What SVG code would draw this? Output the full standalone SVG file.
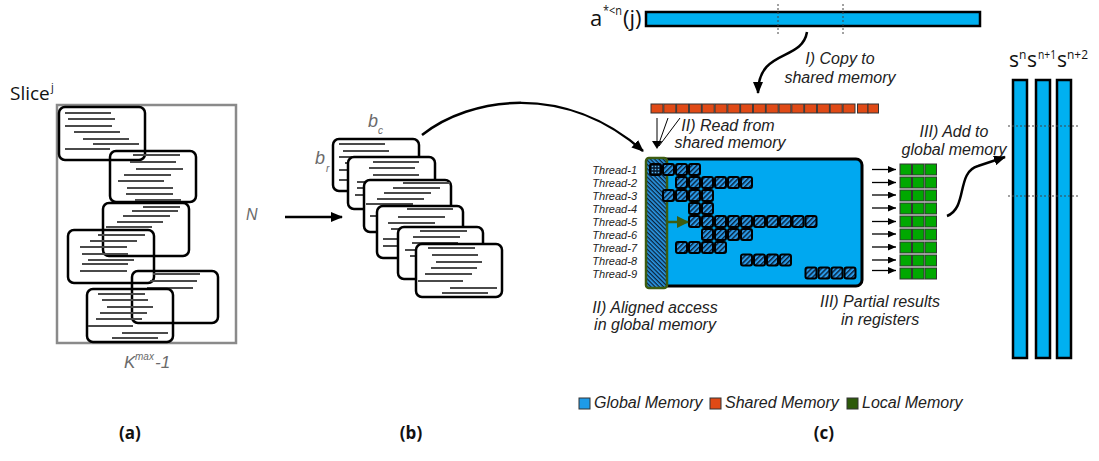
<svg xmlns="http://www.w3.org/2000/svg" width="1099" height="461" viewBox="0 0 1099 461">
<style>
.lbl{font-family:"Liberation Sans",Arial,sans-serif;font-style:italic;fill:#222;font-size:16px}
.thr{font-family:"Liberation Sans",Arial,sans-serif;font-style:italic;fill:#222;font-size:11px;text-anchor:end}
.gray{font-family:"Liberation Sans",Arial,sans-serif;font-style:italic;fill:#6a6a6a}
.sans{font-family:"Open Sans","DejaVu Sans",sans-serif;fill:#111}
.cap{font-family:"Open Sans","DejaVu Sans",sans-serif;font-weight:bold;font-size:17px;fill:#111;text-anchor:middle}
.blk{fill:#fff;stroke:#000;stroke-width:2.5}
.rows{stroke:#4a4a4a;stroke-width:2.2;fill:none}
.gm{fill:#00b0f0;stroke:#000;stroke-width:2.5}
.sm{fill:#e04a16;stroke:#333;stroke-width:1}
.reg{fill:#00a800;stroke:#333;stroke-width:1}
.ts{fill:url(#hatchF);stroke:#000;stroke-width:2}
.con{fill:none;stroke:#000;stroke-width:2.5}
.dot{stroke:#444;stroke-width:1;stroke-dasharray:2 2;fill:none}
</style>
<defs>
<marker id="ah" viewBox="0 0 12 10" refX="11" refY="5" markerWidth="12" markerHeight="10" markerUnits="userSpaceOnUse" orient="auto"><path d="M0,0 L12,5 L0,10 z" fill="#000"/></marker>
<marker id="ahs" viewBox="0 0 8 7" refX="8" refY="3.5" markerWidth="8" markerHeight="7" markerUnits="userSpaceOnUse" orient="auto"><path d="M0,0 L8,3.5 L0,7 z" fill="#000"/></marker>
<marker id="ahg" viewBox="0 0 12 12" refX="11" refY="6" markerWidth="12" markerHeight="12" markerUnits="userSpaceOnUse" orient="auto"><path d="M0,0 L12,6 L0,12 z" fill="#3d5c10"/></marker>
<pattern id="hatchF" width="3.5" height="3.5" patternUnits="userSpaceOnUse" patternTransform="rotate(-45)"><rect width="3.5" height="3.5" fill="#2a9ae8"/><rect width="3.5" height="1.4" fill="#0a2038"/></pattern>
<pattern id="hatchC" width="3" height="3" patternUnits="userSpaceOnUse" patternTransform="rotate(45)"><rect width="3" height="3" fill="#2a9ae8"/><rect width="3" height="1.3" fill="#0a2038"/></pattern>
<pattern id="dots" width="3" height="3" patternUnits="userSpaceOnUse"><rect width="3" height="3" fill="#0a2038"/><circle cx="1.5" cy="1.5" r="0.8" fill="#5ab8f0"/></pattern>
</defs>

<!-- (a) -->
<g id="slice">
<text class="sans" x="10" y="100" font-size="19">Slice</text>
<text class="sans" x="51" y="91" font-size="11">j</text>
<rect x="57" y="105" width="179" height="238" fill="none" stroke="#8a8a8a" stroke-width="2.5"/>
<text class="gray" x="246" y="220" font-size="16">N</text>
<text class="gray" x="124" y="368" font-size="17">K</text>
<text class="gray" x="135" y="360" font-size="10">max</text>
<text class="gray" x="155" y="368" font-size="17">-1</text>
</g>
<g id="a-block1"><rect class="blk" x="59" y="107" width="86" height="53" rx="6"/>
<path class="rows" d="M65,113H111M68,119H115M65,126H112M74,132H120M83,139H129M93,144H139M65,149H110"/></g>
<g id="a-block2"><rect class="blk" x="110" y="151" width="86" height="51" rx="6" fill-opacity="0"/>
<path class="rows" d="M133,155H180M130,162H176M136,169H183M124,175H171M118,181H164M127,188H173M126,194H173M135,200H181"/></g>
<g id="a-block3"><rect class="blk" x="103" y="203" width="86" height="53" rx="6" fill-opacity="0"/>
<path class="rows" d="M143,207H180M132,211H178M123,216H170M117,222H163M106,227H152"/></g>
<g id="a-block4"><rect class="blk" x="68" y="230" width="86" height="53" rx="6" fill-opacity="0"/>
<path class="rows" d="M98,235H145M90,241H137M80,247H127M82,254H128M88,260H134M82,264H128M80,271H127"/></g>
<g id="a-block5"><rect class="blk" x="132" y="271" width="86" height="52" rx="6" fill-opacity="0"/>
<path class="rows" d="M153,274H200M150,281H197M147,288H193"/></g>
<g id="a-block6"><rect class="blk" x="87" y="289" width="86" height="53" rx="6" fill-opacity="0"/>
<path class="rows" d="M98,294H145M102,300H148M107,307H153M100,313H147M96,319H142M88,326H133M122,333H168M112,338H158"/></g>

<!-- (b) -->
<g id="b-labels">
<text class="gray" x="368" y="127" font-size="18">b</text>
<text class="gray" x="378" y="134" font-size="10">c</text>
<text class="gray" x="315" y="164" font-size="18">b</text>
<text class="gray" x="326" y="172" font-size="10">r</text>
</g>
<g id="b-block1"><rect class="blk" x="333" y="139" width="86" height="52" rx="6"/>
<path class="rows" d="M339,144H385M343,151H389M339,157H385M345,163H391M339,170H385M339,180H385"/></g>
<g id="b-block2"><rect class="blk" x="348" y="157" width="87" height="52" rx="6"/>
<path class="rows" d="M373,162H419M369,168H415M373,175H419M357,182H403M357,188H403M355,195H401"/></g>
<g id="b-block3"><rect class="blk" x="364" y="180" width="87" height="52" rx="6"/>
<path class="rows" d="M403,183H450M393,188H440M384,193H431M377,199H424M366,204H413M370,216H416"/></g>
<g id="b-block4"><rect class="blk" x="377" y="206" width="86" height="52" rx="6"/>
<path class="rows" d="M407,209H453M398,217H445M388,223H435M391,229H437M383,239H429M383,246H429"/></g>
<g id="b-block5"><rect class="blk" x="398" y="227" width="85" height="52" rx="6"/>
<path class="rows" d="M420,231H467M413,237H460M412,243H458M405,250H451M410,256H456"/></g>
<g id="b-block6"><rect class="blk" x="416" y="244" width="86" height="53" rx="6"/>
<path class="rows" d="M428,248H475M432,255H478M436,262H482M431,268H477M425,274H472M418,281H463M450,288H497M442,293H488"/></g>

<!-- (c) -->
<g id="a-vector">
<text class="sans" x="590" y="26" font-size="22">a</text>
<text class="sans" x="603" y="15" font-size="12" textLength="19" lengthAdjust="spacingAndGlyphs">*&lt;n</text>
<text class="sans" x="623" y="26" font-size="22">(j)</text>
<rect class="gm" x="646" y="12" width="334" height="14"/>
<line class="dot" x1="778" y1="4" x2="778" y2="34"/>
<line class="dot" x1="843" y1="4" x2="843" y2="34"/>
</g>
<g id="shared-mem">
<rect class="sm" x="651" y="104" width="12" height="9"/><rect class="sm" x="663.8" y="104" width="12" height="9"/><rect class="sm" x="676.6" y="104" width="12" height="9"/><rect class="sm" x="689.4" y="104" width="12" height="9"/><rect class="sm" x="702.2" y="104" width="12" height="9"/><rect class="sm" x="715" y="104" width="12" height="9"/><rect class="sm" x="727.8" y="104" width="12" height="9"/><rect class="sm" x="740.6" y="104" width="12" height="9"/><rect class="sm" x="753.4" y="104" width="12" height="9"/><rect class="sm" x="766.2" y="104" width="12" height="9"/><rect class="sm" x="779" y="104" width="12" height="9"/><rect class="sm" x="791.8" y="104" width="12" height="9"/><rect class="sm" x="804.6" y="104" width="12" height="9"/><rect class="sm" x="817.4" y="104" width="12" height="9"/><rect class="sm" x="830.2" y="104" width="12" height="9"/><rect class="sm" x="843" y="104" width="12" height="9"/><rect class="sm" x="857.5" y="104" width="10.5" height="9"/><rect class="sm" x="868" y="104" width="10.5" height="9"/>
</g>
<g id="thread-block">
<rect x="650" y="159" width="212" height="127" rx="6" fill="#00a8f0" stroke="#000" stroke-width="3"/>
<rect x="646" y="158" width="21" height="130" rx="3" fill="url(#hatchC)" stroke="#3d5c10" stroke-width="2.5"/>
<rect x="650" y="164" width="11" height="11" rx="2" fill="url(#dots)" stroke="#000" stroke-width="2"/>
<g id="r1"><rect class="ts" x="663" y="164" width="11" height="11" rx="2"/><rect class="ts" x="676" y="164" width="11" height="11" rx="2"/><rect class="ts" x="689" y="164" width="11" height="11" rx="2"/></g>
<g id="r2"><rect class="ts" x="676" y="177" width="11" height="11" rx="2"/><rect class="ts" x="689" y="177" width="11" height="11" rx="2"/><rect class="ts" x="702" y="177" width="11" height="11" rx="2"/><rect class="ts" x="715" y="177" width="11" height="11" rx="2"/><rect class="ts" x="728" y="177" width="11" height="11" rx="2"/><rect class="ts" x="741" y="177" width="11" height="11" rx="2"/></g>
<g id="r3"><rect class="ts" x="663" y="190" width="11" height="11" rx="2"/><rect class="ts" x="676" y="190" width="11" height="11" rx="2"/><rect class="ts" x="689" y="190" width="11" height="11" rx="2"/><rect class="ts" x="702" y="190" width="11" height="11" rx="2"/></g>
<g id="r4"><rect class="ts" x="689" y="203" width="11" height="11" rx="2"/><rect class="ts" x="702" y="203" width="11" height="11" rx="2"/></g>
<g id="r5"><rect class="ts" x="689" y="216" width="11" height="11" rx="2"/><rect class="ts" x="702" y="216" width="11" height="11" rx="2"/><rect class="ts" x="715" y="216" width="11" height="11" rx="2"/><rect class="ts" x="728" y="216" width="11" height="11" rx="2"/><rect class="ts" x="741" y="216" width="11" height="11" rx="2"/><rect class="ts" x="754" y="216" width="11" height="11" rx="2"/><rect class="ts" x="767" y="216" width="11" height="11" rx="2"/><rect class="ts" x="780" y="216" width="11" height="11" rx="2"/><rect class="ts" x="792.5" y="216" width="11" height="11" rx="2"/><rect class="ts" x="805.5" y="216" width="11" height="11" rx="2"/></g>
<g id="r6"><rect class="ts" x="702" y="229" width="11" height="11" rx="2"/><rect class="ts" x="715" y="229" width="11" height="11" rx="2"/><rect class="ts" x="728" y="229" width="11" height="11" rx="2"/><rect class="ts" x="741" y="229" width="11" height="11" rx="2"/></g>
<g id="r7"><rect class="ts" x="676" y="242" width="11" height="11" rx="2"/><rect class="ts" x="689" y="242" width="11" height="11" rx="2"/><rect class="ts" x="702" y="242" width="11" height="11" rx="2"/><rect class="ts" x="715" y="242" width="11" height="11" rx="2"/></g>
<g id="r8"><rect class="ts" x="741" y="254.5" width="11" height="11" rx="2"/><rect class="ts" x="754" y="254.5" width="11" height="11" rx="2"/><rect class="ts" x="767" y="254.5" width="11" height="11" rx="2"/><rect class="ts" x="780" y="254.5" width="11" height="11" rx="2"/></g>
<g id="r9"><rect class="ts" x="805.5" y="267.5" width="11" height="11" rx="2"/><rect class="ts" x="818.5" y="267.5" width="11" height="11" rx="2"/><rect class="ts" x="831.5" y="267.5" width="11" height="11" rx="2"/><rect class="ts" x="844.5" y="267.5" width="11" height="11" rx="2"/></g>
</g>
<g id="thread-labels">
<text class="thr" x="637" y="174">Thread-1</text>
<text class="thr" x="637" y="187">Thread-2</text>
<text class="thr" x="637" y="200">Thread-3</text>
<text class="thr" x="637" y="213">Thread-4</text>
<text class="thr" x="637" y="226">Thread-5</text>
<text class="thr" x="637" y="239">Thread-6</text>
<text class="thr" x="637" y="252">Thread-7</text>
<text class="thr" x="637" y="264.5">Thread-8</text>
<text class="thr" x="637" y="277.5">Thread-9</text>
</g>
<g id="registers">
<rect class="reg" x="900" y="164" width="11.5" height="11"/><rect class="reg" x="912.5" y="164" width="11.5" height="11"/><rect class="reg" x="925" y="164" width="11.5" height="11"/>
<rect class="reg" x="900" y="177" width="11.5" height="11"/><rect class="reg" x="912.5" y="177" width="11.5" height="11"/><rect class="reg" x="925" y="177" width="11.5" height="11"/>
<rect class="reg" x="900" y="190" width="11.5" height="11"/><rect class="reg" x="912.5" y="190" width="11.5" height="11"/><rect class="reg" x="925" y="190" width="11.5" height="11"/>
<rect class="reg" x="900" y="203" width="11.5" height="11"/><rect class="reg" x="912.5" y="203" width="11.5" height="11"/><rect class="reg" x="925" y="203" width="11.5" height="11"/>
<rect class="reg" x="900" y="216" width="11.5" height="11"/><rect class="reg" x="912.5" y="216" width="11.5" height="11"/><rect class="reg" x="925" y="216" width="11.5" height="11"/>
<rect class="reg" x="900" y="229" width="11.5" height="11"/><rect class="reg" x="912.5" y="229" width="11.5" height="11"/><rect class="reg" x="925" y="229" width="11.5" height="11"/>
<rect class="reg" x="900" y="242" width="11.5" height="11"/><rect class="reg" x="912.5" y="242" width="11.5" height="11"/><rect class="reg" x="925" y="242" width="11.5" height="11"/>
<rect class="reg" x="900" y="255" width="11.5" height="11"/><rect class="reg" x="912.5" y="255" width="11.5" height="11"/><rect class="reg" x="925" y="255" width="11.5" height="11"/>
<rect class="reg" x="900" y="268" width="11.5" height="11"/><rect class="reg" x="912.5" y="268" width="11.5" height="11"/><rect class="reg" x="925" y="268" width="11.5" height="11"/>
</g>
<g id="s-vectors">
<text class="sans" x="1009" y="67" font-size="21">s</text><text class="sans" x="1019" y="59" font-size="12">n</text>
<text class="sans" x="1027" y="67" font-size="21">s</text><text class="sans" x="1038" y="59" font-size="12" textLength="18" lengthAdjust="spacingAndGlyphs">n+1</text>
<text class="sans" x="1057" y="67" font-size="21">s</text><text class="sans" x="1067" y="59" font-size="12" textLength="21" lengthAdjust="spacingAndGlyphs">n+2</text>
<rect class="gm" x="1013" y="80" width="14" height="278"/>
<rect class="gm" x="1036" y="80" width="14" height="278"/>
<rect class="gm" x="1057" y="80" width="14" height="278"/>
<line class="dot" x1="1008" y1="126" x2="1078" y2="126"/>
<line class="dot" x1="1008" y1="196" x2="1078" y2="196"/>
</g>
<g id="texts-c">
<text class="lbl" x="840" y="64" text-anchor="middle">I) Copy to</text>
<text class="lbl" x="840" y="83" text-anchor="middle">shared memory</text>
<text class="lbl" x="728" y="131" text-anchor="middle">II) Read from</text>
<text class="lbl" x="730" y="148" text-anchor="middle">shared memory</text>
<text class="lbl" x="954" y="137" text-anchor="middle">III) Add to</text>
<text class="lbl" x="954" y="155" text-anchor="middle">global memory</text>
<text class="lbl" x="655" y="313" text-anchor="middle">II) Aligned access</text>
<text class="lbl" x="655" y="330" text-anchor="middle">in global memory</text>
<text class="lbl" x="880" y="307" text-anchor="middle">III) Partial results</text>
<text class="lbl" x="880" y="325" text-anchor="middle">in registers</text>
</g>
<g id="legend">
<rect x="579" y="398" width="11" height="11" fill="#1e9be8" stroke="#333" stroke-width="1"/>
<text class="lbl" x="594" y="408">Global Memory</text>
<rect x="710" y="398" width="11" height="11" fill="#e04a16" stroke="#333" stroke-width="1"/>
<text class="lbl" x="725" y="408">Shared Memory</text>
<rect x="847" y="398" width="11" height="11" fill="#2d5a0a" stroke="#333" stroke-width="1"/>
<text class="lbl" x="862" y="408">Local Memory</text>
</g>
<g id="captions">
<text class="cap" x="130" y="439">(a)</text>
<text class="cap" x="411" y="439">(b)</text>
<text class="cap" x="824" y="439">(c)</text>
</g>

<g id="connectors">
<line x1="285" y1="217" x2="342" y2="217" stroke="#000" stroke-width="2.5" marker-end="url(#ah)"/>
<path class="con" d="M422,135 C470,97 565,82 643,151" marker-end="url(#ah)"/>
<path class="con" d="M807,32 C802,62 758,48 758,93" marker-end="url(#ah)"/>
<path d="M657,118 L657,146 M668,118 L658,146 M680,118 L659,146" stroke="#000" stroke-width="1" fill="none"/>
<path d="M652,141 L662,141 L657,149 z" fill="#000"/>
<line x1="667" y1="222" x2="688" y2="222" stroke="#3d5c10" stroke-width="2.5" marker-end="url(#ahg)"/>
<g stroke="#000" stroke-width="1.3">
<line x1="872" y1="169.5" x2="896" y2="169.5" marker-end="url(#ahs)"/>
<line x1="872" y1="182.5" x2="896" y2="182.5" marker-end="url(#ahs)"/>
<line x1="872" y1="195" x2="896" y2="195" marker-end="url(#ahs)"/>
<line x1="872" y1="208" x2="896" y2="208" marker-end="url(#ahs)"/>
<line x1="872" y1="221.5" x2="896" y2="221.5" marker-end="url(#ahs)"/>
<line x1="872" y1="234" x2="896" y2="234" marker-end="url(#ahs)"/>
<line x1="872" y1="247" x2="896" y2="247" marker-end="url(#ahs)"/>
<line x1="872" y1="260" x2="896" y2="260" marker-end="url(#ahs)"/>
<line x1="872" y1="270.5" x2="896" y2="270.5" marker-end="url(#ahs)"/>
</g>
<path class="con" d="M947,216 C968,208 956,172 978,166 L1005,157" marker-end="url(#ah)"/>
</g>
</svg>
